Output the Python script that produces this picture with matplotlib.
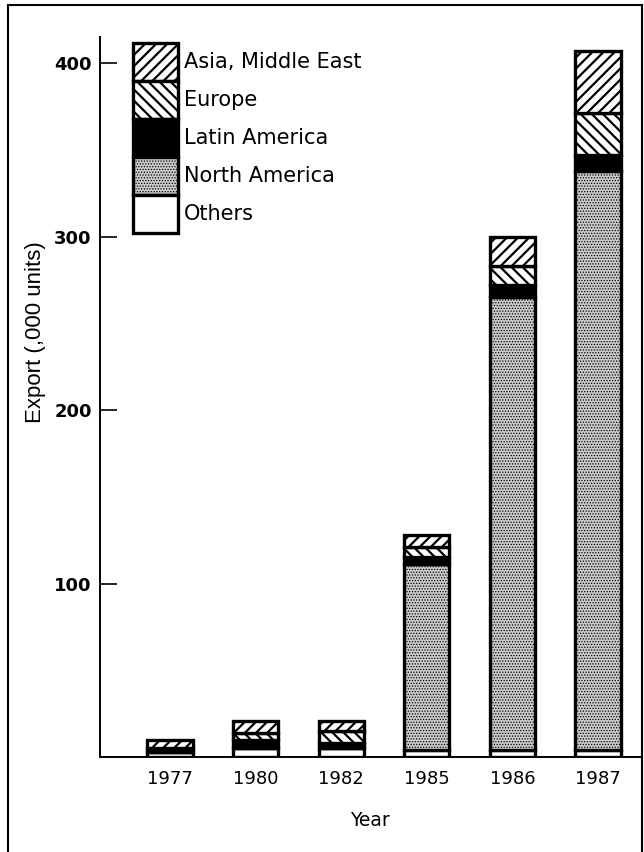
import numpy as np
import matplotlib.pyplot as plt
from matplotlib.patches import Rectangle

years = ['1977', '1980', '1982', '1985', '1986', '1987']
# export, thousand units (stacked bottom -> top)
others = [3, 5, 5, 4, 4, 4]
north_america = [0, 0, 0, 107, 261, 334]
latin_america = [2, 5, 3, 4, 7, 9]
europe = [0, 4, 7, 6, 11, 24]
asia_middle_east = [5, 7, 6, 7, 17, 36]

plt.rcParams['font.family'] = ['DejaVu Sans']
plt.rcParams['hatch.linewidth'] = 1.6
plt.rcParams['hatch.color'] = 'black'

fig = plt.figure(figsize=(6.44, 8.52), dpi=100)
ax = fig.add_axes([100 / 644, 95 / 852, 540 / 644, 720 / 852])

x = np.arange(len(years))
width = 0.53
edge = dict(edgecolor='black', linewidth=2.4)

series = [
    (others, 'Others', dict(color='white'), 1.6),
    (north_america, 'North America', dict(color='#cbcbcb', hatch='......'), 0.6),
    (latin_america, 'Latin America', dict(color='black'), 1.6),
    (europe, 'Europe', dict(color='white', hatch='\\\\\\'), 1.6),
    (asia_middle_east, 'Asia, Middle East', dict(color='white', hatch='///'), 1.6),
]

bottom = np.zeros(len(years))
handles = []
for vals, name, style, hlw in series:
    vals = np.array(vals, dtype=float)
    with plt.rc_context({'hatch.linewidth': hlw}):
        bars = ax.bar(x, vals, width, bottom=bottom, label=name,
                      facecolor=style['color'], hatch=style.get('hatch'), **edge)
    handles.append(bars)
    bottom += vals

ax.set_xlim(-70 / 85.6, 5 + 42 / 85.6)
ax.set_ylim(0, 415)
ax.set_yticks([100, 200, 300, 400])
ax.set_xticks(x)
ax.set_xticklabels(years, fontsize=13)
ax.tick_params(axis='x', length=0, pad=9)
ax.tick_params(axis='y', direction='in', length=12, width=1.2, pad=6,
               labelsize=13)
for lab in ax.get_yticklabels():
    lab.set_fontweight('bold')

for s in ['top', 'right']:
    ax.spines[s].set_visible(False)
ax.spines['left'].set_linewidth(1.4)
ax.spines['bottom'].set_linewidth(1.4)

ax.set_xlabel('Year', fontsize=13.5, labelpad=17)
ax.set_ylabel('Export (,000 units)', fontsize=16, family='Liberation Sans')
ax.yaxis.set_label_coords(-0.10, 0.59)

fs = 15
hh = (38 * 0.72 / fs - 0.245) / 0.65
leg = ax.legend(handles[::-1], [s[1] for s in series][::-1],
                loc='upper left', bbox_to_anchor=(33 / 540, 1 - 6 / 720),
                frameon=False, fontsize=fs, borderpad=0, labelspacing=0,
                handlelength=45 * 0.72 / fs, handleheight=hh,
                handletextpad=0.3, borderaxespad=0)
# legend patches keep the hatch line width of their bars
for patch, s in zip(leg.get_patches(), series[::-1]):
    if hasattr(patch, 'set_hatch_linewidth'):
        patch.set_hatch_linewidth(s[3])
    else:
        patch._hatch_linewidth = s[3]

# frame round the whole figure
fig.add_artist(Rectangle((8 / 644, -0.01), 634 / 644, (852 - 5) / 852 + 0.01,
                         transform=fig.transFigure, fill=False,
                         edgecolor='black', linewidth=1.5))

fig.savefig('out.png', dpi=100)
